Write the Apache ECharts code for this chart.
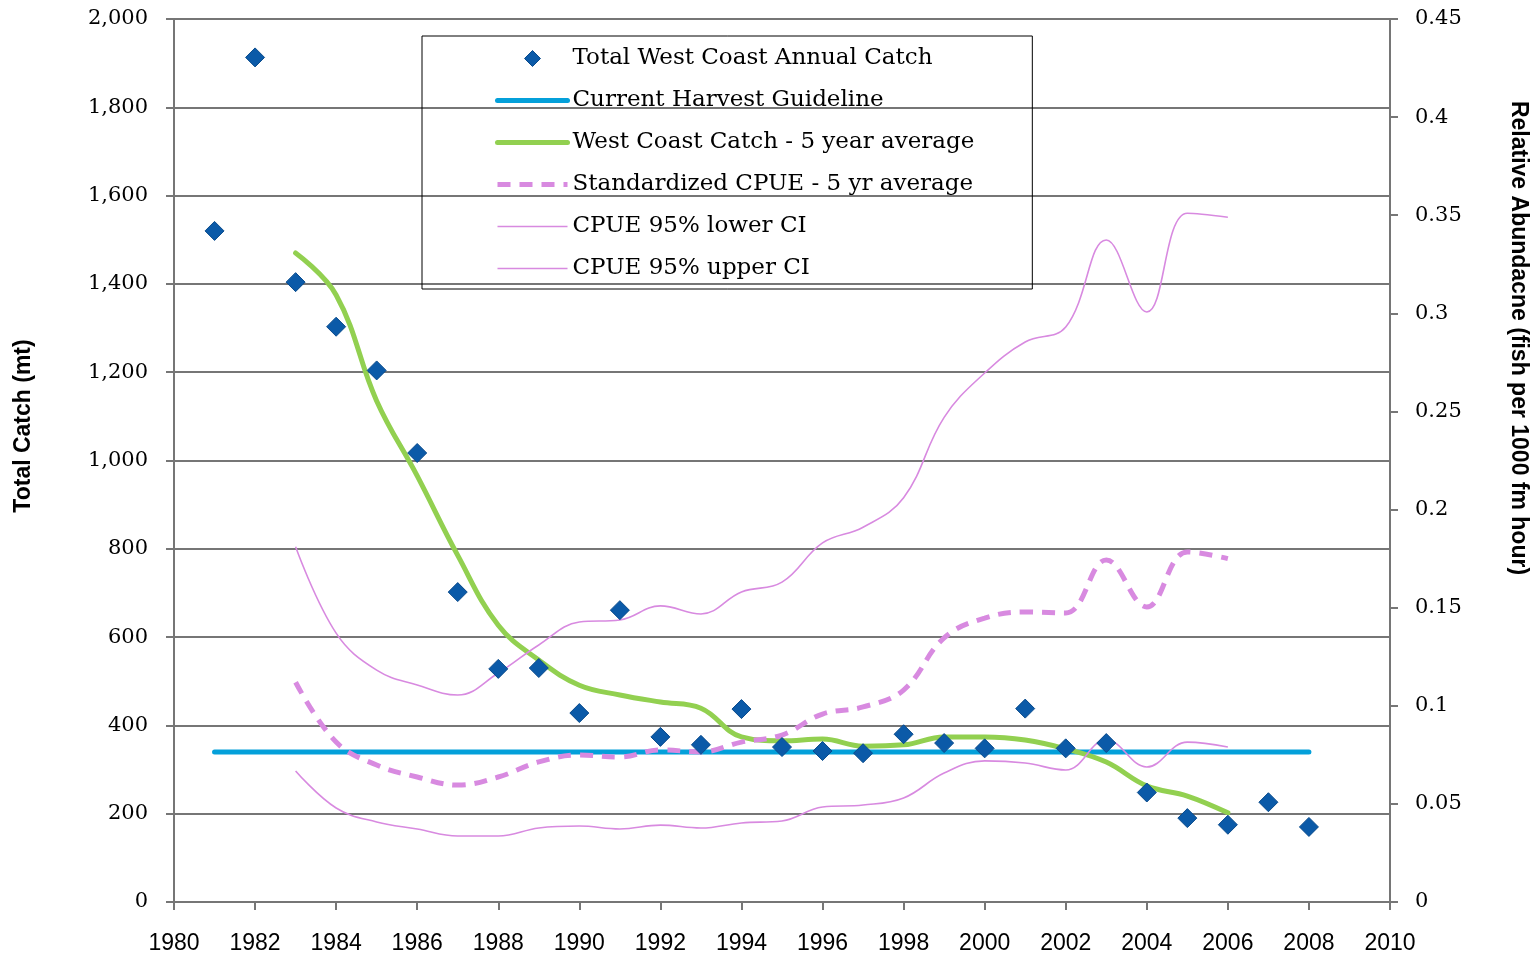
<!DOCTYPE html>
<html>
<head>
<meta charset="utf-8">
<script src="https://cdn.jsdelivr.net/npm/echarts@6/dist/echarts.min.js"></script>
<style>html,body{margin:0;padding:0;background:#fff;}#chart{width:1535px;height:956px;}</style>
</head>
<body>
<div id="chart"></div>
<script>
// ---- data ----
const catchYears = [1981,1982,1983,1984,1985,1986,1987,1988,1989,1990,1991,1992,1993,1994,1995,1996,1997,1998,1999,2000,2001,2002,2003,2004,2005,2006,2007,2008];
const catchValues = [1520,1913,1404,1303,1204,1017,702,528,530,428,661,374,356,437,351,342,337,380,360,348,438,348,360,248,190,175,226,170];

const guideYears = [1981, 2008];
const guideValues = [340, 340];

const avgYears = [1983,1984,1985,1986,1987,1988,1989,1990,1991,1992,1993,1994,1995,1996,1997,1998,1999,2000,2001,2002,2003,2004,2005,2006];
const catchAvg = [1470,1375,1135,965,785,627,548,491,469,453,439,374,365,369,353,356,374,374,367,347,317,263,240,202];
const cpueAvg  = [0.112,0.0815,0.0698,0.0637,0.0596,0.0637,0.0714,0.0749,0.0739,0.0775,0.0765,0.0815,0.0851,0.0958,0.0994,0.108,0.1346,0.1447,0.1478,0.1473,0.1743,0.1504,0.1784,0.175];
const cpueLower = [0.0668,0.0479,0.0408,0.0372,0.0336,0.0336,0.0377,0.0387,0.0372,0.0392,0.0377,0.0403,0.0413,0.0484,0.0494,0.053,0.0657,0.0719,0.0708,0.0673,0.0826,0.0688,0.0815,0.079];
const cpueUpper = [0.181,0.137,0.1182,0.1106,0.1055,0.1167,0.131,0.1427,0.1437,0.1509,0.1468,0.158,0.163,0.183,0.191,0.206,0.247,0.2696,0.2854,0.293,0.3374,0.3007,0.351,0.349];

const leftTicks = {min: 0, max: 2000, interval: 200};
const rightTicks = {min: 0, max: 0.45, interval: 0.05};
const xTicks = {min: 1980, max: 2010, interval: 2};

const names = ['Total West Coast Annual Catch','Current Harvest Guideline','West Coast Catch - 5 year average','Standardized CPUE - 5 yr average','CPUE 95% lower CI','CPUE 95% upper CI'];
const leftTitle = 'Total Catch (mt)';
const rightTitle = 'Relative Abundacne (fish per 1000 fm hour)';

const pairs = (xs, ys) => xs.map((x, i) => [x, ys[i]]);

const serif = '"DejaVu Serif", serif';
const sans = '"Liberation Sans", Arial, sans-serif';
const gridGrey = '#767676';
const pink = '#d88ae0';
const blue = '#04a0da';
const green = '#92d050';
const navy = '#0b5aa8';

// legend icon: diamond centered in a 70x16 box
const diamondIcon = 'path://M0,8L0,8M35,0L43,8L35,16L27,8ZM70,8L70,8';

const chart = echarts.init(document.getElementById('chart'), null, {renderer: 'canvas'});
chart.setOption({
  backgroundColor: '#ffffff',
  animation: false,
  grid: {left: 174, right: 145, top: 19, bottom: 54, containLabel: false},
  legend: {
    orient: 'vertical',
    left: 422, top: 36,
    padding: [11, 58, 9, 73],
    borderColor: '#000', borderWidth: 1,
    itemWidth: 70, itemHeight: 16, itemGap: 19,
    textStyle: {fontFamily: serif, fontSize: 23, lineHeight: 23, color: '#000'},
    data: [
      {name: names[0], icon: diamondIcon, itemStyle: {color: navy, borderColor: '#0a4b8c', borderWidth: 1, opacity: 1}},
      {name: names[1], itemStyle: {opacity: 0}, lineStyle: {color: blue, width: 5, cap: 'round'}},
      {name: names[2], itemStyle: {opacity: 0}, lineStyle: {color: green, width: 5, cap: 'round'}},
      {name: names[3], itemStyle: {opacity: 0}, lineStyle: {color: pink, width: 5, type: [13, 9]}},
      {name: names[4], itemStyle: {opacity: 0}, lineStyle: {color: pink, width: 1.6}},
      {name: names[5], itemStyle: {opacity: 0}, lineStyle: {color: pink, width: 1.6}}
    ]
  },
  xAxis: {
    type: 'value', min: xTicks.min, max: xTicks.max, interval: xTicks.interval,
    axisLine: {lineStyle: {color: gridGrey, width: 2}},
    axisTick: {show: true, inside: false, length: 8, lineStyle: {color: gridGrey, width: 2}},
    splitLine: {show: false},
    axisLabel: {fontFamily: sans, fontSize: 23, color: '#000', margin: 30, formatter: v => String(v)}
  },
  yAxis: [{
    type: 'value', position: 'left', min: leftTicks.min, max: leftTicks.max, interval: leftTicks.interval,
    axisLine: {show: true, lineStyle: {color: gridGrey, width: 2}},
    axisTick: {show: true, inside: false, length: 8, lineStyle: {color: gridGrey, width: 2}},
    splitLine: {show: true, lineStyle: {color: gridGrey, width: 2}},
    axisLabel: {fontFamily: serif, fontSize: 21, color: '#000', margin: 26,
      formatter: v => v.toLocaleString('en-US')}
  }, {
    type: 'value', position: 'right', min: rightTicks.min, max: rightTicks.max, interval: rightTicks.interval,
    axisLine: {show: true, lineStyle: {color: gridGrey, width: 2}},
    axisTick: {show: true, inside: false, length: 8, lineStyle: {color: gridGrey, width: 2}},
    splitLine: {show: false},
    axisLabel: {fontFamily: serif, fontSize: 21, color: '#000', margin: 25,
      formatter: v => String(parseFloat(v.toFixed(2)))}
  }],
  graphic: [
    {type: 'text', x: 24, y: 426, rotation: Math.PI / 2,
      style: {text: leftTitle, fontFamily: sans, fontWeight: 'bold', fontSize: 23, fill: '#000', align: 'center', verticalAlign: 'middle'}},
    {type: 'text', x: 1518, y: 338, rotation: -Math.PI / 2,
      style: {text: rightTitle, fontFamily: sans, fontWeight: 'bold', fontSize: 23, fill: '#000', align: 'center', verticalAlign: 'middle'}}
  ],
  series: [
    {name: names[0], type: 'scatter', yAxisIndex: 0, z: 10, symbol: 'diamond', symbolSize: 19,
      itemStyle: {color: navy, borderColor: '#0a4b8c', borderWidth: 1, opacity: 1},
      data: pairs(catchYears, catchValues)},
    {name: names[1], type: 'line', yAxisIndex: 0, z: 3, symbol: 'none',
      lineStyle: {color: blue, width: 5, cap: 'round'}, itemStyle: {color: blue},
      data: pairs(guideYears, guideValues)},
    {name: names[2], type: 'line', yAxisIndex: 0, z: 4, symbol: 'none', smooth: 0.4,
      lineStyle: {color: green, width: 5, cap: 'round'}, itemStyle: {color: green},
      data: pairs(avgYears, catchAvg)},
    {name: names[3], type: 'line', yAxisIndex: 1, z: 4, symbol: 'none', smooth: 0.4,
      lineStyle: {color: pink, width: 5, type: [13, 9]}, itemStyle: {color: pink},
      data: pairs(avgYears, cpueAvg)},
    {name: names[4], type: 'line', yAxisIndex: 1, z: 4, symbol: 'none', smooth: 0.4,
      lineStyle: {color: pink, width: 1.6}, itemStyle: {color: pink},
      data: pairs(avgYears, cpueLower)},
    {name: names[5], type: 'line', yAxisIndex: 1, z: 4, symbol: 'none', smooth: 0.4,
      lineStyle: {color: pink, width: 1.6}, itemStyle: {color: pink},
      data: pairs(avgYears, cpueUpper)}
  ]
});
</script>
</body>
</html>
